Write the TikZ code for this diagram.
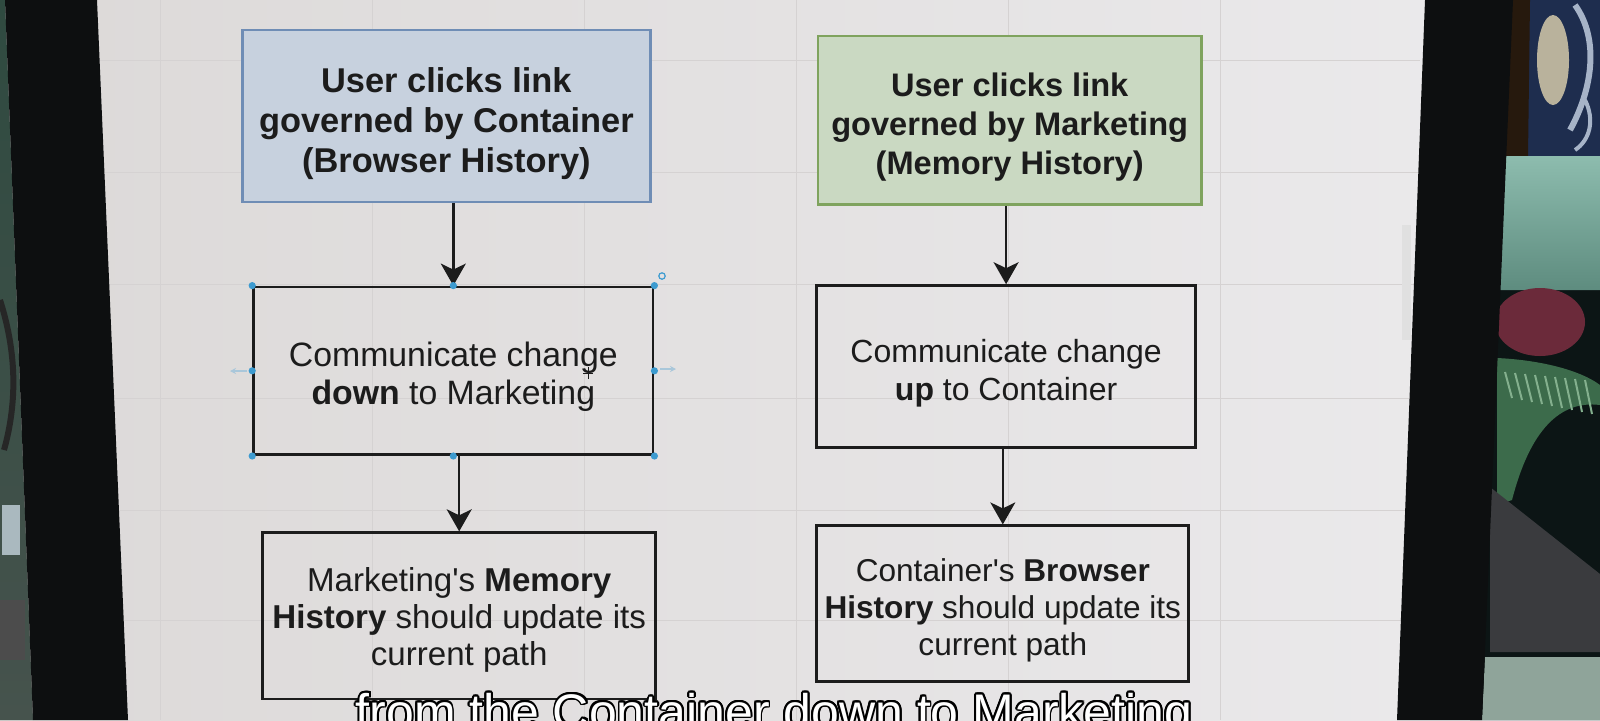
\documentclass[tikz,border=0pt]{standalone}
\usepackage{fontspec}
\setmainfont{Liberation Sans}
\usetikzlibrary{arrows.meta}
\definecolor{bluefill}{HTML}{C7D1DE}
\definecolor{blueline}{HTML}{6F8DB5}
\definecolor{greenfill}{HTML}{CAD9C2}
\definecolor{greenline}{HTML}{7FA35E}
\definecolor{ink}{HTML}{1C1C1C}
\definecolor{scrL}{HTML}{DCD9D8}
\definecolor{scrR}{HTML}{ECEBED}
\definecolor{gridc}{HTML}{D5D2D2}
\definecolor{bezel}{HTML}{0D0F10}
\definecolor{handleblue}{HTML}{3D9BD0}
\definecolor{handlefaint}{HTML}{A9C7DA}
\definecolor{navy}{HTML}{1E2D4E}
\definecolor{swirl}{HTML}{A7B4C8}
\definecolor{beige}{HTML}{B9B29C}
\definecolor{mintT}{HTML}{8DBCAE}
\definecolor{mintB}{HTML}{5E8C7F}
\definecolor{maroon}{HTML}{6B2A3A}
\definecolor{fern}{HTML}{3C6B4B}
\definecolor{fernlt}{HTML}{84B08E}
\definecolor{darkroom}{HTML}{0C1515}
\definecolor{grayobj}{HTML}{3A3B3E}
\definecolor{floorc}{HTML}{8FA49A}
\definecolor{leftT}{HTML}{2F4A40}
\definecolor{leftB}{HTML}{46534D}
\begin{document}
\begin{tikzpicture}[x=0.5pt,y=-0.5pt,
  box/.style={draw=ink, line width=1.4pt, inner sep=0pt},
  topbox/.style={box, line width=1.2pt},
  txt/.style={inner sep=0pt, align=center, text=ink},
  arr/.style={-{Stealth[length=11pt,width=12.5pt,inset=3pt]}, line width=1.2pt, draw=ink},
  handle/.style={circle, fill=handleblue, inner sep=0pt, minimum size=3.6pt},
  sub/.style={anchor=base, inner sep=0pt, font=\fontsize{25pt}{30pt}\selectfont},
]
\useasboundingbox (0,0) rectangle (1600,720);
\begin{scope}
\clip (0,0) rectangle (1600,720);
% screen
\shade[left color=scrL, right color=scrR] (0,0) rectangle (1600,720);
\foreach \yy in {60,172,284,398,510,620}
  \draw[gridc, line width=0.5pt] (100,\yy) -- (1420,\yy);
\foreach \xx in {160,372,584,796,1008,1220}
  \draw[gridc, line width=0.5pt] (\xx,0) -- (\xx,720);
% scroll bar
\fill[black!12] (1402,225) rectangle (1411,340);
% left scene and bezel
\shade[top color=leftT, bottom color=leftB]
  (0,0) -- (5,0) -- (33,720) -- (0,720) -- cycle;
\draw[black!85, line width=3pt] (0,300) .. controls (16,350) and (18,400) .. (4,450);
\fill[cyan!30!black!50!white!80] (2,505) rectangle (20,555);
\fill[black!70] (0,600) rectangle (25,660);
\fill[bezel] (5,0) -- (97,0) -- (128,720) -- (33,720) -- cycle;
% right scene and bezel
\fill[darkroom] (1500,0) -- (1600,0) -- (1600,720) -- (1470,720) -- cycle;
\fill[navy] (1506,0) -- (1600,0) -- (1600,156) -- (1503,156) -- cycle;
\fill[black!80!brown] (1506,0) -- (1530,0) -- (1528,156) -- (1503,156) -- cycle;
\fill[beige] (1553,60) ellipse (16 and 45);
\draw[swirl, line width=3pt] (1575,5) .. controls (1600,40) and (1592,90) .. (1570,130);
\draw[swirl, line width=2pt] (1585,100) .. controls (1595,120) and (1590,140) .. (1575,150);
\shade[top color=mintT, bottom color=mintB]
  (1503,156) -- (1600,156) -- (1600,290) -- (1500,290) -- cycle;
\fill[maroon] (1540,322) ellipse (45 and 34);
\fill[fern] (1497,358) .. controls (1540,360) and (1580,370) .. (1600,385)
  -- (1600,405) .. controls (1560,400) and (1530,430) .. (1512,500) -- (1497,505) -- cycle;
\foreach \k in {0,...,8}
  \draw[fernlt, line width=1pt] (1505+10*\k,372+\k) -- (1512+10*\k,398+2*\k);
\fill[grayobj] (1490,487) -- (1600,574) -- (1600,652) -- (1490,652) -- cycle;
\fill[floorc] (1485,657) -- (1600,657) -- (1600,720) -- (1482,720) -- cycle;
\fill[bezel] (1425,0) -- (1513,0) -- (1482,720) -- (1397,720) -- cycle;
\end{scope}

% ---- boxes, left column
\node[topbox, fill=bluefill, draw=blueline, minimum width=204pt, minimum height=86pt]
  (lt) at (446.4,116) {};
\node[box, minimum width=199.7pt, minimum height=83.8pt] (lm) at (453.3,370.8) {};
\node[box, minimum width=196.4pt, minimum height=83.1pt] (lb) at (459.2,615.8) {};
% ---- boxes, right column
\node[topbox, fill=greenfill, draw=greenline, minimum width=191.8pt, minimum height=84.3pt]
  (rt) at (1009.7,120) {};
\node[box, minimum width=189.3pt, minimum height=81pt] (rm) at (1006.1,366.6) {};
\node[box, minimum width=186pt, minimum height=78pt] (rb) at (1002.8,603.8) {};

% ---- texts
\node[txt, font=\fontsize{17.2pt}{20pt}\selectfont\bfseries] (ltt) at ([yshift=-3.8pt]lt.center)
  {User clicks link\\governed by Container\\(Browser History)};
\node[txt, font=\fontsize{16.9pt}{19pt}\selectfont] (lmt) at ([yshift=-3pt]lm.center)
  {Communicate change\\\textbf{down} to Marketing};
\node[txt, font=\fontsize{16.55pt}{18.4pt}\selectfont] (lbt) at ([yshift=-2.2pt]lb.center)
  {Marketing\textquotesingle s \textbf{Memory}\\\textbf{History} should update its\\current path};
\node[txt, font=\fontsize{16.3pt}{19.5pt}\selectfont\bfseries] (rtt) at ([yshift=-3.5pt]rt.center)
  {User clicks link\\governed by Marketing\\(Memory History)};
\node[txt, font=\fontsize{16pt}{19pt}\selectfont] (rmt) at ([yshift=-3.3pt]rm.center)
  {Communicate change\\\textbf{up} to Container};
\node[txt, font=\fontsize{15.8pt}{18.4pt}\selectfont] (rbt) at ([yshift=-3.2pt]rb.center)
  {Container\textquotesingle s \textbf{Browser}\\\textbf{History} should update its\\current path};

% ---- connectors
\draw[arr] (lt.south -| lm.north) -- (lm.north);
\draw[arr] (lm.south -| lb.north) -- (lb.north);
\draw[arr] (rt.south -| rm.north) -- (rm.north);
\draw[arr] (rm.south -| rb.north) -- (rb.north);

% ---- selection handles on the middle-left box
\foreach \an [count=\i] in {north west,north,north east,west,east,south west,south,south east}
  \node[handle] (h\i) at (lm.\an) {};
\coordinate (rot) at (662,276);
\draw[handleblue, line width=0.6pt] (rot) circle (3.2);
\coordinate (la0) at (247,371);
\coordinate (la1) at (230,371);
\draw[handlefaint, line width=0.8pt, -{Stealth[length=3pt,width=3pt]}] (la0) -- (la1);
\coordinate (ra0) at (660,369);
\coordinate (ra1) at (676,369);
\draw[handlefaint, line width=0.8pt, -{Stealth[length=3pt,width=3pt]}] (ra0) -- (ra1);
\coordinate (cur) at (588,373);
\draw[ink, line width=0.5pt] ([xshift=-2.5pt]cur) -- ([xshift=2.5pt]cur)
  ([yshift=-3pt]cur) -- ([yshift=3pt]cur);

% ---- outlined caption at the bottom
\begin{scope}
\clip (0,0) rectangle (1600,720);
\foreach \a [count=\j] in {0,22.5,...,337.5}
  \node[sub, text=black, xshift={0.9pt*cos(\a)}, yshift={0.9pt*sin(\a)}] (subo\j) at (774,729)
    {from the Container down to Marketing};
\node[sub, text=white] (sub) at (774,729) {from the Container down to Marketing};
\end{scope}
\end{tikzpicture}
\end{document}
